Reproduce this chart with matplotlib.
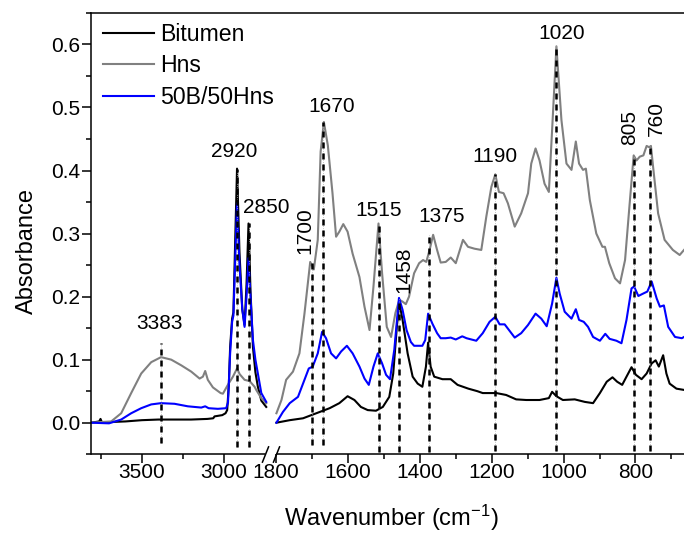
import numpy as np
import matplotlib.pyplot as plt
from matplotlib.ticker import FixedLocator, FormatStrFormatter, MultipleLocator

plt.rcParams['font.family'] = ['Liberation Sans', 'DejaVu Sans']
plt.rcParams['mathtext.default'] = 'regular'
plt.rcParams['font.size'] = 15

# ---- 3800-2740 cm-1 window ----
bit_hi_wn = [3810, 3760, 3752, 3744, 3700, 3600, 3500, 3400, 3300, 3200, 3100, 3065, 3057,
             3010, 2990, 2980, 2970, 2962, 2950, 2942, 2932, 2920, 2905, 2888, 2874, 2862,
             2850, 2838, 2823, 2808, 2793, 2772, 2742]
bit_hi = [0.0, 0.002, 0.006, 0.001, 0.001, 0.002, 0.004, 0.005, 0.005, 0.005, 0.006, 0.007, 0.010,
          0.012, 0.015, 0.020, 0.060, 0.120, 0.165, 0.175, 0.280, 0.403, 0.270, 0.180, 0.155, 0.220,
          0.316, 0.210, 0.120, 0.080, 0.057, 0.035, 0.025]

hns_hi_wn = [3810, 3687, 3626, 3565, 3504, 3443, 3383, 3321, 3260, 3199, 3148, 3128, 3114, 3098,
             3067, 3020, 3006, 2976, 2945, 2920, 2904, 2874, 2843, 2813, 2803, 2772, 2742]
hns_hi = [0.0, 0.002, 0.015, 0.047, 0.078, 0.096, 0.104, 0.100, 0.091, 0.081, 0.070, 0.073, 0.082, 0.068,
          0.056, 0.047, 0.046, 0.060, 0.073, 0.086, 0.077, 0.068, 0.066, 0.057, 0.052, 0.039, 0.031]

mix_hi_wn = [3810, 3700, 3626, 3565, 3504, 3443, 3383, 3301, 3220, 3138, 3114, 3093, 3037, 2986,
             2975, 2962, 2950, 2942, 2932, 2920, 2905, 2888, 2874, 2862, 2850, 2838, 2823, 2808,
             2793, 2772, 2742]
mix_hi = [0.0, -0.001, 0.005, 0.015, 0.023, 0.029, 0.031, 0.030, 0.026, 0.024, 0.026, 0.023, 0.022, 0.023,
          0.032, 0.110, 0.160, 0.170, 0.250, 0.348, 0.250, 0.180, 0.152, 0.200, 0.261, 0.200, 0.131, 0.100,
          0.078, 0.047, 0.033]

# ---- 1800-665 cm-1 window ----
bit_lo_wn = [1799, 1762, 1725, 1688, 1651, 1624, 1601, 1582, 1564, 1545, 1522, 1503, 1485, 1474,
             1464, 1457, 1448, 1434, 1420, 1406, 1393, 1383, 1377, 1370, 1360, 1337, 1314, 1295,
             1265, 1240, 1225, 1187, 1160, 1132, 1104, 1067, 1041, 1032, 1020, 1002, 969, 941,
             918, 899, 880, 864, 851, 837, 825, 811, 799, 783, 769, 755, 744, 735, 723, 714,
             705, 686, 665]
bit_lo = [0.0, 0.004, 0.007, 0.015, 0.023, 0.031, 0.042, 0.036, 0.025, 0.020, 0.019, 0.025, 0.041, 0.078,
          0.152, 0.190, 0.163, 0.110, 0.073, 0.062, 0.057, 0.089, 0.127, 0.089, 0.073, 0.069, 0.069, 0.060,
          0.054, 0.050, 0.047, 0.047, 0.044, 0.037, 0.036, 0.036, 0.039, 0.049, 0.042, 0.036, 0.037, 0.033,
          0.031, 0.047, 0.065, 0.072, 0.065, 0.060, 0.073, 0.088, 0.076, 0.069, 0.078, 0.094, 0.099, 0.089,
          0.107, 0.078, 0.062, 0.054, 0.052]

hns_lo_wn = [1799, 1785, 1772, 1753, 1735, 1721, 1705, 1695, 1684, 1676, 1667, 1656, 1643, 1633,
             1624, 1613, 1601, 1587, 1568, 1554, 1540, 1529, 1515, 1505, 1492, 1480, 1468, 1457,
             1448, 1439, 1430, 1416, 1402, 1391, 1382, 1372, 1363, 1352, 1342, 1328, 1314, 1300,
             1280, 1266, 1248, 1229, 1215, 1201, 1190, 1180, 1167, 1155, 1136, 1118, 1099, 1090,
             1078, 1067, 1053, 1041, 1032, 1020, 1006, 992, 978, 966, 957, 946, 938, 927, 909,
             892, 885, 873, 857, 843, 829, 817, 805, 797, 788, 778, 769, 762, 757, 751, 737, 719,
             696, 677, 665]
hns_lo = [0.015, 0.036, 0.068, 0.081, 0.110, 0.173, 0.255, 0.243, 0.290, 0.430, 0.477, 0.440, 0.364, 0.295,
          0.303, 0.315, 0.303, 0.268, 0.231, 0.184, 0.147, 0.216, 0.316, 0.237, 0.152, 0.136, 0.174, 0.195,
          0.192, 0.188, 0.200, 0.237, 0.253, 0.258, 0.255, 0.276, 0.298, 0.274, 0.254, 0.255, 0.262, 0.253,
          0.290, 0.279, 0.276, 0.274, 0.327, 0.374, 0.394, 0.366, 0.364, 0.348, 0.311, 0.332, 0.364, 0.411,
          0.435, 0.416, 0.379, 0.366, 0.464, 0.597, 0.480, 0.411, 0.401, 0.446, 0.411, 0.401, 0.403, 0.353,
          0.300, 0.279, 0.279, 0.253, 0.229, 0.221, 0.258, 0.342, 0.424, 0.416, 0.422, 0.424, 0.439, 0.437,
          0.439, 0.406, 0.332, 0.290, 0.274, 0.266, 0.274]

mix_lo_wn = [1799, 1781, 1762, 1739, 1721, 1709, 1698, 1684, 1672, 1661, 1647, 1633, 1619, 1603,
             1587, 1568, 1554, 1542, 1529, 1517, 1505, 1494, 1483, 1471, 1458, 1448, 1437, 1425,
             1416, 1393, 1385, 1377, 1365, 1352, 1342, 1328, 1314, 1300, 1282, 1270, 1243, 1225,
             1206, 1190, 1178, 1164, 1152, 1136, 1118, 1099, 1078, 1062, 1047, 1032, 1020, 1011,
             997, 978, 966, 957, 944, 932, 918, 899, 884, 872, 853, 839, 825, 811, 804, 792, 778,
             767, 755, 741, 732, 721, 709, 690, 671, 665]
mix_lo = [0.0, 0.017, 0.031, 0.041, 0.068, 0.086, 0.089, 0.110, 0.144, 0.134, 0.110, 0.102, 0.113, 0.122,
          0.110, 0.089, 0.070, 0.060, 0.089, 0.110, 0.094, 0.076, 0.069, 0.116, 0.198, 0.179, 0.147, 0.128,
          0.122, 0.122, 0.131, 0.173, 0.157, 0.142, 0.134, 0.134, 0.135, 0.132, 0.137, 0.134, 0.130, 0.142,
          0.160, 0.168, 0.156, 0.156, 0.147, 0.135, 0.142, 0.155, 0.173, 0.165, 0.153, 0.189, 0.230, 0.205,
          0.176, 0.165, 0.180, 0.163, 0.160, 0.152, 0.136, 0.130, 0.141, 0.133, 0.130, 0.126, 0.163, 0.213,
          0.216, 0.201, 0.205, 0.208, 0.224, 0.197, 0.184, 0.186, 0.152, 0.136, 0.134, 0.136]

# marked bands: position, height reached by the marker, lower end
peaks = [3383, 2920, 2850, 1700, 1670, 1515, 1458, 1375, 1190, 1020, 805, 760]
peak_top = [0.127, 0.403, 0.316, 0.255, 0.477, 0.316, 0.198, 0.298, 0.394, 0.597, 0.424, 0.439]
peak_low = [-0.032, -0.038, -0.038, -0.035, -0.035, -0.046, -0.046, -0.046, -0.045, -0.045, -0.045, -0.045]

# where each band label sits (wavenumber, absorbance, rotation)
label_at = [(3392, 0.158, 0), (2935, 0.430, 0), (2738, 0.342, 0), (1720, 0.305, 90),
            (1646, 0.501, 0), (1516, 0.337, 0), (1444, 0.242, 90), (1339, 0.327, 0),
            (1190, 0.423, 0), (1005, 0.617, 0), (817, 0.469, 90), (741, 0.483, 90)]

# broken wavenumber axis: 3810-2740 squeezed, tiny gap, 1800-665 wider
knot_wn = [0, 1800, 2740, 5000]
knot_pos = [-923.1, -276.45, -266.94, 103.7]


def fwd(w):
    return np.interp(w, knot_wn, knot_pos)


def inv(p):
    return np.interp(p, knot_pos, knot_wn)


fig = plt.figure(figsize=(6.84, 5.33), dpi=100)
ax = fig.add_axes([91 / 684, 0.1478, 593 / 684, 0.828])
ax.set_xscale('function', functions=(fwd, inv))

lw = 1.5
ax.plot(bit_hi_wn, bit_hi, color='black', lw=lw)
ax.plot(hns_hi_wn, hns_hi, color='#808080', lw=lw)
ax.plot(mix_hi_wn, mix_hi, color='#0000ff', lw=lw)
ax.plot(bit_lo_wn, bit_lo, color='black', lw=lw, label='Bitumen')
ax.plot(hns_lo_wn, hns_lo, color='#808080', lw=lw, label='Hns')
ax.plot(mix_lo_wn, mix_lo, color='#0000ff', lw=lw, label='50B/50Hns')

for p, top, low in zip(peaks, peak_top, peak_low):
    ax.plot([p, p], [low, top], color='#b0b0b0', lw=0.6, ls=':', zorder=4)
    ax.plot([p, p], [low, top], color='black', lw=1.8, ls=(0, (2.4, 2.0)), zorder=5)

for p, (lx, ly, rot) in zip(peaks, label_at):
    ax.text(lx, ly, str(p), ha='center', va='center', rotation=rot, fontsize=15)

ax.set_xlim(3810, 665)
ax.set_ylim(-0.05, 0.65)

ax.xaxis.set_major_locator(FixedLocator([3500, 3000, 1800, 1600, 1400, 1200, 1000, 800]))
ax.xaxis.set_minor_locator(FixedLocator([3750, 3250, 1700, 1500, 1300, 1100, 900, 700]))
ax.xaxis.set_major_formatter(FormatStrFormatter('%d'))
ax.yaxis.set_major_locator(MultipleLocator(0.1))
ax.yaxis.set_minor_locator(MultipleLocator(0.05))
ax.yaxis.set_major_formatter(FormatStrFormatter('%.1f'))

ax.tick_params(which='major', direction='out', length=6.5, width=1.1, labelsize=15)
ax.tick_params(which='minor', direction='out', length=3.5, width=1.1)
ax.tick_params(axis='x', which='major', pad=0)
ax.tick_params(axis='y', which='major', pad=1.5)

ax.spines['right'].set_visible(False)
ax.spines['bottom'].set_visible(False)
ax.spines['top'].set_linewidth(1.1)
ax.spines['left'].set_linewidth(1.1)

# bottom axis line with the break marks
xt = ax.get_xaxis_transform()
ax.plot([3810, 2752], [0, 0], transform=xt, color='black', lw=1.1, clip_on=False,
        solid_capstyle='butt')
ax.plot([1800, 665], [0, 0], transform=xt, color='black', lw=1.1, clip_on=False,
        solid_capstyle='butt')
ax.plot([2752, 1800], [0, 0], transform=xt, ls='none', marker=[(-0.4, -1), (0.4, 1)],
        markersize=12, mew=1.1, color='black', clip_on=False)

ax.set_xlabel('Wavenumber (cm$^{-1}$)', fontsize=17, labelpad=15)
ax.set_ylabel('Absorbance', fontsize=17, labelpad=8.8)
ax.xaxis.label.set_x(0.506)
ax.yaxis.label.set_y(0.4605)

ax.legend(loc='upper left', bbox_to_anchor=(0.02, 0.978), frameon=False, fontsize=16.6,
          handlelength=2.2, handletextpad=0.3, labelspacing=0.38, borderaxespad=0,
          borderpad=0)

fig.savefig('out.png', dpi=100)
